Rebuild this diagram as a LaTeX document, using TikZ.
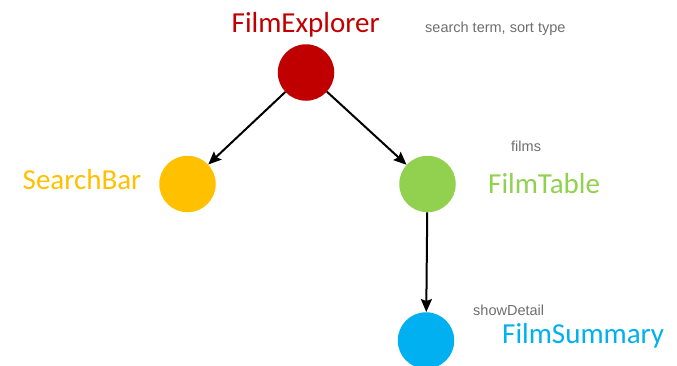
\documentclass[tikz,border=0pt]{standalone}
\usepackage{fontspec}
\setmainfont{Carlito}
\newfontfamily\notefont{Liberation Sans}
\usetikzlibrary{arrows.meta}
\definecolor{explred}{HTML}{C00000}
\definecolor{barorange}{HTML}{FFC000}
\definecolor{tablegreen}{HTML}{92D050}
\definecolor{summblue}{HTML}{00B0F0}
\definecolor{notegray}{HTML}{6E6E6E}
\begin{document}
\begin{tikzpicture}[x=1pt,y=-1pt,
  comp/.style={circle,minimum size=56.5pt,inner sep=0pt,draw=none},
  title/.style={anchor=base west,inner sep=0pt,font=\fontsize{29}{32}\selectfont},
  note/.style={anchor=base west,inner sep=0pt,text=notegray,font=\notefont\fontsize{14.5}{16}\selectfont},
  link/.style={line width=2pt,-{Stealth[length=13pt,width=11pt,inset=2pt]}}]
  \useasboundingbox (0,0) rectangle (677,365);
  % component circles
  \node[comp,fill=explred]    (fe) at (306,72.5) {};
  \node[comp,fill=barorange]  (sb) at (187.5,184) {};
  \node[comp,fill=tablegreen] (ft) at (427.5,184) {};
  \node[comp,fill=summblue]   (fs) at (426,340.5) {};
  % component names
  \node[title,text=explred]    (feL) at (231.5,32) {FilmExplorer};
  \node[title,text=barorange]  (sbL) at (22.5,189.5) {SearchBar};
  \node[title,text=tablegreen] (ftL) at (488,193.5) {FilmTable};
  \node[title,text=summblue]   (fsL) at (502,343) {FilmSummary};
  % state / props notes
  \node[note] (feN) at (425,32) {search term, sort type};
  \node[note] (ftN) at (511,151) {films};
  \node[note] (fsN) at (473,315) {showDetail};
  % parent-child links
  \draw[link] (fe) -- (sb);
  \draw[link] (fe) -- (ft);
  \draw[link] (ft) -- (fs);
\end{tikzpicture}
\end{document}
